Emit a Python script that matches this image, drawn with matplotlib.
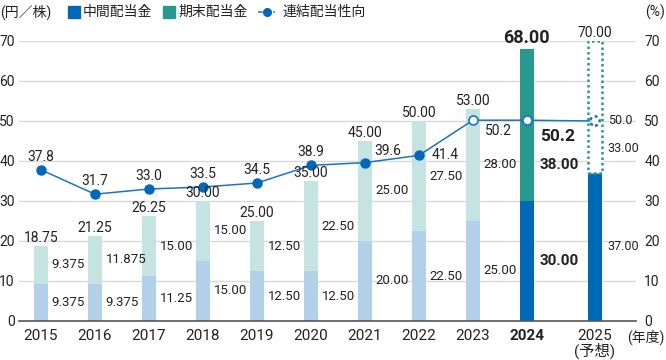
import matplotlib
matplotlib.use("Agg")
import matplotlib.pyplot as plt
from matplotlib.patches import Rectangle
from matplotlib.lines import Line2D

plt.rcParams['font.family'] = ['Roboto', 'Noto Sans CJK JP', 'DejaVu Sans']

# data
years = ["2015", "2016", "2017", "2018", "2019", "2020", "2021", "2022", "2023", "2024", "2025"]
interim = [9.375, 9.375, 11.25, 15.00, 12.50, 12.50, 20.00, 22.50, 25.00, 30.00, 37.00]
year_end = [9.375, 11.875, 15.00, 15.00, 12.50, 22.50, 25.00, 27.50, 28.00, 38.00, 33.00]
payout = [37.8, 31.7, 33.0, 33.5, 34.5, 38.9, 39.6, 41.4, 50.2, 50.2, 50.0]
totals = [a + b for a, b in zip(interim, year_end)]

BLUE = '#0068b7'
TEAL = '#27998f'
LIGHT_BLUE = '#b2d0e8'
LIGHT_TEAL = '#c5e4e1'
LINE = '#1b75bc'


def fmt(v):
    s = f"{v:.2f}"
    return s if abs(float(s) - v) < 1e-9 else f"{v:.3f}"


# 2025 (forecast) sits a bit further out
x = list(range(10)) + [10.26]
w = 0.26

fig = plt.figure(figsize=(6.66, 3.6), dpi=100)
ax = fig.add_axes([19 / 666, 39 / 360, 617 / 666, 280 / 360])
ax.set_xlim(-0.407, 11.02)
ax.set_ylim(0, 70)

for i in range(len(x)):
    dark = i >= 9
    ax.bar(x[i], interim[i], w, color=BLUE if dark else LIGHT_BLUE, zorder=2)
    if i < 10:
        ax.bar(x[i], year_end[i], w, bottom=interim[i],
               color=TEAL if dark else LIGHT_TEAL, zorder=2)
    else:
        ax.bar(x[i], year_end[i], w, bottom=interim[i], facecolor='white',
               edgecolor=TEAL, linestyle=(0, (1, 1.2)), linewidth=1.8, zorder=2)

# payout ratio line
ax.plot(x, payout, color=LINE, lw=1.1, zorder=4)
ax.plot(x[:8], payout[:8], 'o', ms=6.5, color=BLUE, zorder=5)
ax.plot(x[8:10], payout[8:10], 'o', ms=6.5, mfc='white', mec=LINE, mew=1.2, zorder=5)
ax.scatter([x[10]], [payout[10]], s=45, facecolors='white', edgecolors=LINE,
           linestyles=(0, (1.2, 1.2)), linewidths=1.8, zorder=5)

# axes styling
ax.set_yticks(range(0, 80, 10))
ax.grid(axis='y', color='#d9d9d9', lw=1)
ax.set_axisbelow(True)
for s in ['left', 'right', 'top']:
    ax.spines[s].set_visible(False)
ax.spines['bottom'].set_color('#555555')
ax.spines['bottom'].set_linewidth(1.2)
ax.spines['bottom'].set_zorder(6)
ax.tick_params(axis='y', length=0, labelsize=10, pad=3, colors='#222222')
ax.tick_params(axis='x', length=0, labelsize=11, pad=6, colors='#222222')

ax2 = ax.twinx()
ax2.set_ylim(0, 70)
ax2.set_yticks(range(0, 80, 10))
for s in ax2.spines.values():
    s.set_visible(False)
ax2.tick_params(axis='y', length=0, labelsize=10, pad=6, colors='#222222')

ax.set_xticks(x)
ax.set_xticklabels(years[:10] + ["2025\n(予想)"])
ticklabels = ax.get_xticklabels()
ticklabels[9].set_fontweight('bold')
ticklabels[10].set_linespacing(0.95)

# total labels
for i in range(len(x)):
    big = i == 9
    ax.annotate(fmt(totals[i]), (x[i], totals[i]), xytext=(0, 6 if not big else 8),
                textcoords='offset points', ha='center', va='center',
                fontsize=13 if big else 10, fontweight='bold' if big else 'normal',
                color='#222222', annotation_clip=False, zorder=7)

# segment labels
for i in range(len(x)):
    dx = 0.2 if i < 9 else 0.23
    y_int = interim[i] / 2
    y_end = interim[i] + year_end[i] / 2
    if i == 9:
        y_end = 39
    if i == 10:
        y_end = 43.25
    if i == 9:
        kw = dict(fontsize=11, fontweight='bold')
    elif i == 10:
        kw = dict(fontsize=9)
    else:
        kw = dict(fontsize=9.5)
    ax.text(x[i] + dx, y_int, fmt(interim[i]), ha='left', va='center', color='#222222', zorder=7, **kw)
    ax.text(x[i] + dx, y_end, fmt(year_end[i]), ha='left', va='center', color='#222222', zorder=7, **kw)

# payout labels
offsets = {6: (6.5, 8.5, 'left'), 7: (9, 0, 'left'), 8: (9, -8, 'left'),
           9: (9.5, -12, 'left'), 10: (9.5, 0, 'left')}
for i in range(len(x)):
    dx, dy, ha = offsets.get(i, (0, 9.5, 'center'))
    kw = dict(fontsize=12.5, fontweight='bold') if i == 9 else dict(fontsize=10 if i < 10 else 9)
    ax.annotate(f"{payout[i]:.1f}", (x[i], payout[i]), xytext=(dx, dy),
                textcoords='offset points', ha=ha, va='center', color='#222222',
                zorder=7, **kw)

# top legend and unit labels
ytop = 1 - 12 / 360
fig.text(0, ytop, "(円／株)", ha='left', va='center', fontsize=10, color='#222222')
fig.patches.append(Rectangle((68 / 666, 1 - 18 / 360), 12 / 666, 12 / 360,
                             transform=fig.transFigure, color=BLUE))
fig.text(83 / 666, ytop, "中間配当金", ha='left', va='center', fontsize=10, color='#222222')
fig.patches.append(Rectangle((163 / 666, 1 - 18 / 360), 12 / 666, 12 / 360,
                             transform=fig.transFigure, color=TEAL))
fig.text(178 / 666, ytop, "期末配当金", ha='left', va='center', fontsize=10, color='#222222')
fig.lines.append(Line2D([258 / 666, 275 / 666], [ytop, ytop], transform=fig.transFigure,
                        color=LINE, lw=1.1, ls=(0, (3, 2))))
fig.lines.append(Line2D([266.5 / 666], [ytop], transform=fig.transFigure,
                        marker='o', ms=5.5, color=BLUE))
fig.text(283 / 666, ytop, "連結配当性向", ha='left', va='center', fontsize=10, color='#222222')
fig.text(0.998, ytop, "(%)", ha='right', va='center', fontsize=10, color='#222222')
fig.text(0.998, 1 - 337 / 360, "(年度)", ha='right', va='center', fontsize=10, color='#222222')

fig.savefig("out.png", dpi=100)
